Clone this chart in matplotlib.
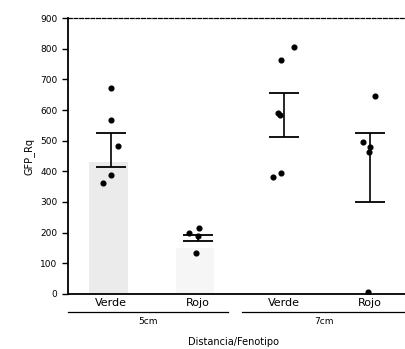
import numpy as np
import matplotlib.pyplot as plt
import matplotlib.transforms as mtransforms

# groups on the x axis
fenotipo = ["Verde", "Rojo", "Verde", "Rojo"]
distancias = ["5cm", "7cm"]

# mean +/- SE per group
medias = [470, 183, 584, 413]
se = [55, 10, 72, 112]

# faint stippled bars behind the points (scan shows them mostly for Verde 5cm)
fondo = [430, 150, 0, 0]

# individual points: group index, small x offset, value
pt_grupo = [0, 0, 0, 0, 0, 1, 1, 1, 1, 2, 2, 2, 2, 2, 2, 3, 3, 3, 3, 3]
pt_dx = [0.0, 0.0, 0.08, 0.0, -0.1, -0.1, 0.0, 0.02, -0.02,
         0.12, -0.03, -0.07, -0.05, -0.13, -0.03,
         -0.08, 0.0, -0.01, 0.06, -0.03]
pt_val = [672, 567, 482, 387, 361, 200, 190, 216, 134,
          807, 764, 590, 584, 380, 393,
          496, 480, 463, 646, 5]

plt.rcParams['hatch.color'] = '#bdbdbd'
plt.rcParams['hatch.linewidth'] = 0.8

fig = plt.figure(figsize=(4.05, 3.49), dpi=100)
ax = fig.add_axes([0.168, 0.158, 0.84, 0.79])

x = np.arange(1, len(fenotipo) + 1)
ax.bar(x[:2] - 0.03, fondo[:2], width=0.45, color=["#ebebeb", "#f6f6f6"],
       edgecolor="none", hatch="....", zorder=1)

px = np.array([x[g] for g in pt_grupo]) + np.array(pt_dx)
ax.plot(px, pt_val, 'o', color='black', markersize=3.4, zorder=3)

ax.errorbar(x, medias, yerr=se, fmt='none', ecolor='black', elinewidth=1.2,
            capsize=11, capthick=1.3, zorder=2)

ax.set_xlim(0.5, 4.44)
ax.set_ylim(0, 900)
ax.set_yticks(range(0, 901, 100))
ax.tick_params(axis='y', labelsize=6.5, direction='out', length=4, width=1)
ax.set_xticks(x)
ax.set_xticklabels(fenotipo, fontsize=8)
ax.tick_params(axis='x', length=0, pad=3)
ax.set_ylabel("GFP_Rq", fontsize=7, labelpad=4)

ax.spines['right'].set_visible(False)
ax.spines['top'].set_linestyle((0, (3, 1.5)))
ax.spines['top'].set_linewidth(0.9)
ax.spines['left'].set_linewidth(1.3)
ax.spines['bottom'].set_linewidth(1.3)

# group lines and labels under the category names
trans = mtransforms.blended_transform_factory(ax.transData, ax.transAxes)
tramos = [(0.5, 2.35), (2.52, 4.41)]
for (a, b), d in zip(tramos, distancias):
    ax.plot([a, b], [-0.065, -0.065], color='black', lw=0.9,
            transform=trans, clip_on=False)
    ax.text((a + b) / 2, -0.085, d, transform=trans, ha='center', va='top',
            fontsize=6.5)

ax.text(2.42, -0.155, "Distancia/Fenotipo", transform=trans, ha='center',
        va='top', fontsize=7)

fig.savefig("out.png", dpi=100)
